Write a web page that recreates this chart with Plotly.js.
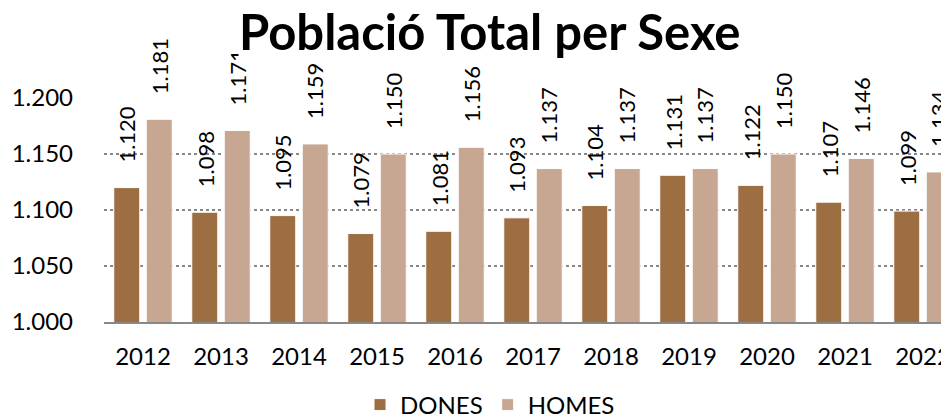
<!DOCTYPE html>
<html>
<head>
<meta charset="utf-8">
<script src="https://cdn.plot.ly/plotly-3.0.1.min.js"></script>
<style>html,body{margin:0;padding:0;overflow:hidden;background:#fff;width:941px;height:420px}</style>
</head>
<body>
<div id="chart"></div>
<script>
const years = ['2012','2013','2014','2015','2016','2017','2018','2019','2020','2021','2022'];
const dones = [1120,1098,1095,1079,1081,1093,1104,1131,1122,1107,1099];
const homes = [1181,1171,1159,1150,1156,1137,1137,1137,1150,1146,1134];
const seriesNames = ['DONES','HOMES'];
const colors = ['#9C6E41','#C8A792'];
const titleText = 'Població Total per Sexe';

const FONT = 'Lato, "Open Sans", sans-serif';
const fmt = n => String(n).replace(/\B(?=(\d{3})+(?!\d))/g, '.');

const traces = [dones, homes].map((vals, i) => ({
  type: 'bar', x: years, y: vals, name: seriesNames[i],
  marker: {color: colors[i], line: {color: '#ffffff', width: 1}},
  hoverinfo: 'skip'
}));

const annotations = [];
[dones, homes].forEach((vals, i) => {
  vals.forEach((v, j) => {
    annotations.push({
      x: j, y: v, xref: 'x', yref: 'y',
      text: fmt(v), showarrow: false, textangle: -90,
      xanchor: 'center', yanchor: 'bottom',
      xshift: i === 0 ? -16 : 16, yshift: 23,
      font: {family: FONT, size: 22, color: '#000'}
    });
  });
});
annotations.push({
  text: '<b>' + titleText + '</b>', xref: 'paper', yref: 'paper',
  x: (490 - 104) / 858, y: (322 - 61) / 224, xanchor: 'center', yanchor: 'bottom',
  showarrow: false, bgcolor: '#ffffff', borderpad: 0,
  font: {family: FONT, size: 49, color: '#000'}
});

const layout = {
  width: 980, height: 420,
  margin: {l: 104, r: 18, t: 98, b: 98, autoexpand: false},
  paper_bgcolor: '#fff', plot_bgcolor: '#fff',
  separators: ',.',
  font: {family: FONT, size: 24, color: '#000'},
  barmode: 'group', bargap: 0.167, bargroupgap: 0.2,
  showlegend: true,
  legend: {orientation: 'h', xref: 'container', yref: 'paper', x: 0.5, xanchor: 'center', y: (322 - 405) / 224, yanchor: 'middle',
    font: {family: FONT, size: 24, color: '#000'}, itemwidth: 30, tracegroupgap: 0},
  xaxis: {type: 'category', range: [-0.5, years.length - 0.5], showline: true, linecolor: '#888', linewidth: 2, ticks: '', showgrid: false,
    tickfont: {family: FONT, size: 24}, ticklabelstandoff: 12, fixedrange: true},
  yaxis: {range: [1000, 1200], dtick: 50, tick0: 1000, tickformat: ',d', showgrid: true, gridcolor: '#888',
    griddash: 'dot', gridwidth: 2, zeroline: false, showline: false, ticks: '',
    tickfont: {family: FONT, size: 24}, ticklabelstandoff: 30, fixedrange: true},
  annotations: annotations
};

Plotly.newPlot('chart', traces, layout, {displayModeBar: false, staticPlot: true});
</script>
</body>
</html>
